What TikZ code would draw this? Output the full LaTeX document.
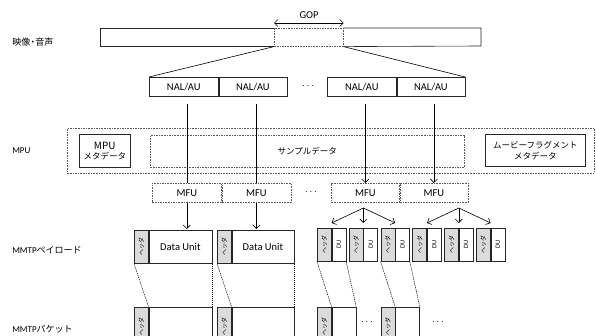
\documentclass[tikz,border=0pt]{standalone}
\usepackage{fontspec}
\setmainfont{Carlito}
\newfontfamily\jp{Noto Sans CJK JP}
\usetikzlibrary{arrows.meta}

\newcommand{\hdrtext}{\rotatebox{90}{\jp\fontsize{6}{7}\selectfont ヘッダ}}

\begin{document}
\begin{tikzpicture}[x=1pt,y=-1pt,
  >={Straight Barb[length=3.5pt,width=7pt]},
  line width=0.6pt,
  box/.style={draw=black!85,inner sep=0pt,anchor=north west,font=\fontsize{10.5}{12}\selectfont},
  dbox/.style={box,draw=black!65,dash pattern=on 1.6pt off 1pt},
  hdr/.style={box,fill=black!14,minimum width=14pt,minimum height=33pt},
  lbl/.style={anchor=west,inner sep=0pt,font=\fontsize{9}{11}\selectfont},
  dl/.style={dash pattern=on 1.2pt off 0.8pt,line width=0.5pt}]
\path[use as bounding box,clip] (0,0) rectangle (596,336);

% Labels
\node[lbl] (lav) at (12,42) {\jp 映像{\kern-2pt}・{\kern-2pt}音声};
\node[lbl] (lmpu) at (12,151) {MPU};
\node[lbl] (lpay) at (12,250) {MMTP\jp ペイロード};
\node[lbl] (lpkt) at (12,329) {MMTP\jp パケット};

% Top bar with GOP
\node[dbox,minimum width=69pt,minimum height=18pt] (gop) at (274,28) {};
\coordinate (barL) at (100,28);
\coordinate (barR) at (481,46);
\draw[black!85] (gop.north west) -- (barL) -- (barL |- gop.south) -- (gop.south west);
\draw[black!85] (gop.north east) -- (barR |- gop.north) -- (barR) -- (gop.south east);
\draw[<->] ([yshift=5pt]gop.north west) -- ([yshift=5pt]gop.north east);
\node[font=\fontsize{10.5}{12}\selectfont] (goplbl) at (309,15) {GOP};

% NAL/AU
\node[box,minimum width=69pt,minimum height=19pt] (nal1) at (149,77) {NAL/AU};
\node[box,minimum width=68pt,minimum height=19pt] (nal2) at (nal1.north east) {NAL/AU};
\node (dots1) at (308,86) {$\cdots$};
\node[box,minimum width=69pt,minimum height=19pt] (nal3) at (327,77) {NAL/AU};
\node[box,minimum width=68pt,minimum height=19pt] (nal4) at (nal3.north east) {NAL/AU};
\draw (gop.south west) -- (nal1.north west);
\draw (gop.south east) -- (nal4.north east);

% MPU
\node[dbox,minimum width=527pt,minimum height=45pt] (mpu) at (67,128) {};
\node[box,minimum width=51pt,minimum height=33pt,align=center,font=\jp\fontsize{8.5}{10}\selectfont] (mpumeta) at (79,134) {\fontsize{10}{11}\selectfont MPU\\メタデータ};
\node[dbox,minimum width=314pt,minimum height=32pt,font=\jp\fontsize{8.5}{10}\selectfont] (sample) at (150,135) {サンプルデータ};
\node[box,minimum width=100pt,minimum height=32pt,align=center,font=\jp\fontsize{8.5}{11}\selectfont] (moof) at (485,134) {ムービーフラグメント\\メタデータ};

% MFU
\node[dbox,minimum width=69pt,minimum height=19pt] (mfu1) at (152,183) {MFU};
\node[dbox,minimum width=69pt,minimum height=19pt] (mfu2) at (mfu1.north east) {MFU};
\node (dots2) at (311,192) {$\cdots$};
\node[dbox,minimum width=68pt,minimum height=19pt] (mfu3) at (331,183) {MFU};
\node[dbox,minimum width=68pt,minimum height=19pt] (mfu4) at (mfu3.north east) {MFU};

\draw ([yshift=-7pt]nal1.south -| mfu1.north) -- (mfu1.north);
\draw ([yshift=-7pt]nal2.south -| mfu2.north) -- (mfu2.north);
\draw[->] ([yshift=-7pt]nal3.south -| mfu3.north) -- (mfu3.north);
\draw[->] ([yshift=-7pt]nal4.south -| mfu4.north) -- (mfu4.north);

% MMTP payload
\node[hdr] (h1) at (134,230) {\hdrtext};
\node[box,minimum width=63pt,minimum height=33pt] (d1) at (h1.north east) {Data Unit};
\node[hdr] (h2) at (217,230) {\hdrtext};
\node[box,minimum width=62pt,minimum height=33pt] (d2) at (h2.north east) {Data Unit};
\draw[->] (mfu1.south) -- ([yshift=1pt]mfu1.south |- d1.north);
\draw[->] (mfu2.south) -- ([yshift=1pt]mfu2.south |- d2.north);

\foreach \i in {0,...,5} {
  \node[hdr] (sh\i) at ({317+31.8*\i},228) {\hdrtext};
  \node[box,minimum width=14pt,minimum height=33pt] (su\i) at (sh\i.north east) {\rotatebox{90}{\fontsize{6.5}{7}\selectfont DU}};
}
\coordinate (br1) at ([yshift=20pt]sh1.north east);
\coordinate (br2) at ([yshift=20pt]sh4.north east);
\foreach \j in {0,1,2}
  \draw[->] (br1) -- ([yshift=5pt]sh\j.north east);
\foreach \j in {3,4,5}
  \draw[->] (br2) -- ([yshift=5pt]sh\j.north east);

% MMTP packet
\node[hdr,minimum height=38pt] (ph1) at (134,307) {\hdrtext};
\node[box,minimum width=63pt,minimum height=38pt] (pb1) at (ph1.north east) {};
\node[hdr,minimum height=38pt] (ph2) at (217,307) {\hdrtext};
\node[box,minimum width=62pt,minimum height=38pt] (pb2) at (ph2.north east) {};
\node[hdr,minimum height=38pt] (phA) at (317,307) {\hdrtext};
\node[box,minimum width=24pt,minimum height=38pt] (pbA) at (phA.north east) {};
\node (dots3) at (367,322) {$\cdots$};
\node[hdr,minimum height=38pt] (phB) at (380.6,307) {\hdrtext};
\node[box,minimum width=24pt,minimum height=38pt] (pbB) at (phB.north east) {};
\node (dots4) at (438,322) {$\cdots$};

\draw[dl] (h1.south west) -- (ph1.north east);
\draw[dl] (d1.south east) -- (pb1.north east);
\draw[dl] (h2.south west) -- (ph2.north east);
\draw[dl] (d2.south east) -- (pb2.north east);
\draw[dl] (sh0.south west) -- (phA.north east);
\draw[dl] (su0.south east) -- (pbA.north east);
\draw[dl] (sh2.south west) -- (phB.north east);
\draw[dl] (su2.south east) -- (pbB.north east);
\end{tikzpicture}
\end{document}
